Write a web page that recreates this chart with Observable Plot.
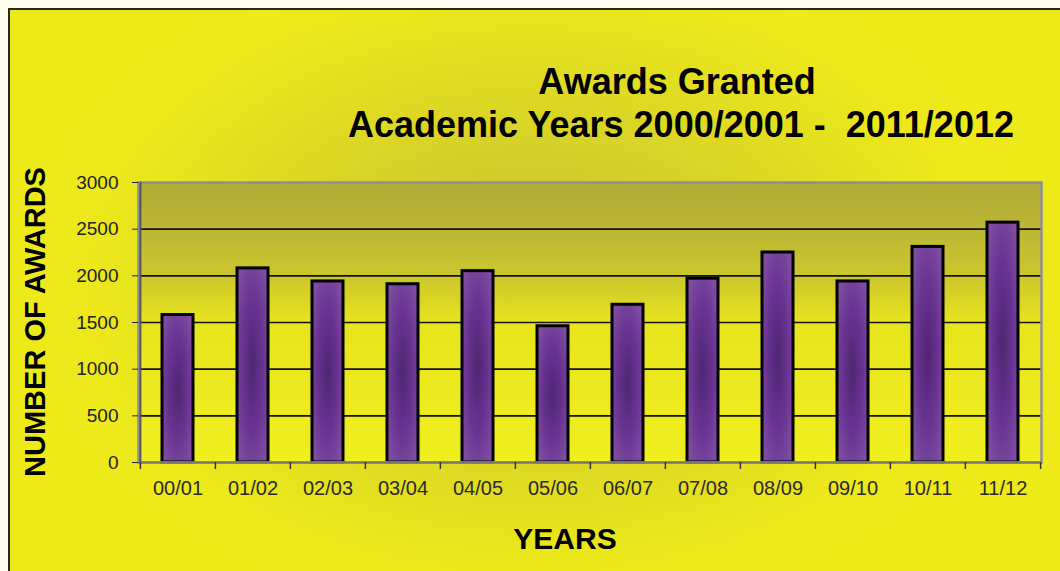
<!DOCTYPE html>
<html>
<head>
<meta charset="utf-8">
<script src="https://cdn.jsdelivr.net/npm/d3@7"></script>
<script src="https://cdn.jsdelivr.net/npm/@observablehq/plot@0.6"></script>
<style>
  html, body { margin: 0; padding: 0; background: #fffdf0; }
  #wrap { position: relative; width: 1060px; height: 571px; overflow: hidden; font-family: "Liberation Sans", Arial, sans-serif; }
  #bg { position: absolute; left: 8px; top: 8px; width: 1120px; height: 620px;
        border-left: 2px solid #2c2a14; border-top: 2px solid #2c2a14;
        background: radial-gradient(ellipse 500px 330px at 520px 270px, #c3bd34 0%, #d8d327 45%, #ebe71b 85%, #eeea1a 100%); }
  .t { position: absolute; font-weight: bold; color: #000; white-space: pre; text-align: center; }
  #chart { position: absolute; left: 0; top: 0; }
</style>
</head>
<body>
<div id="wrap">
  <div id="bg"></div>
  <div id="chart"></div>
  <div class="t" id="t1" style="left:327px; top:64px; width:700px; font-size:36px; line-height:36px;">Awards Granted</div>
  <div class="t" id="t2" style="left:331px; top:107px; width:700px; font-size:36px; line-height:36px;">Academic Years 2000/2001 -  2011/2012</div>
  <div class="t" id="ylab" style="left:-165px; top:306px; width:400px; font-size:29px; line-height:32px; transform:rotate(-90deg);">NUMBER OF AWARDS</div>
  <div class="t" id="xlab" style="left:415px; top:522px; width:300px; font-size:30px; line-height:34px;">YEARS</div>
</div>
<script>
const years = ["00/01","01/02","02/03","03/04","04/05","05/06","06/07","07/08","08/09","09/10","10/11","11/12"];
const awards = [1580, 2080, 1940, 1910, 2050, 1460, 1690, 1970, 2250, 1940, 2310, 2570];
const yTicks = [0, 500, 1000, 1500, 2000, 2500, 3000];
const gridValues = [500, 1000, 1500, 2000, 2500];

const data = years.map((y, i) => ({year: y, value: awards[i]}));

const W = 1060, H = 571, mL = 138, mR = 19, mT = 182, mB = 109;
const step = (W - mL - mR) / years.length;

const chart = Plot.plot({
  width: W, height: H,
  marginLeft: mL, marginRight: mR, marginTop: mT, marginBottom: mB,
  style: { background: "transparent", fontFamily: "Liberation Sans, Arial, sans-serif", overflow: "visible" },
  x: { type: "band", domain: years, paddingInner: 0.59, paddingOuter: 0.295, label: null },
  y: { domain: [0, 3000], label: null },
  marks: [
    Plot.frame({ fill: "url(#plotGrad)", stroke: null }),
    Plot.ruleY(gridValues, { stroke: "#111", strokeWidth: 1.6 }),
    Plot.barY(data, { x: "year", y: "value", fill: "url(#barGrad)", stroke: "#000", strokeWidth: 3 }),
    Plot.frame({ stroke: "#8e8e98", strokeWidth: 2.5 }),
    Plot.ruleX([years[0]], { x: d => d, dx: -step / 2, stroke: "#555", strokeWidth: 2 }),
    Plot.ruleY([0], { stroke: "#777", strokeWidth: 2 }),
    Plot.ruleX(years, { x: d => d, dx: -step / 2, y1: 0, y2: 0, insetTop: 0, insetBottom: -7, stroke: "#333", strokeWidth: 1.5 }),
    Plot.ruleX([years[years.length - 1]], { x: d => d, dx: step / 2, y1: 0, y2: 0, insetTop: 0, insetBottom: -7, stroke: "#333", strokeWidth: 1.5 }),
    Plot.axisY({ ticks: yTicks, tickFormat: d => String(d), tickSize: 6, tickPadding: 14, fontSize: 19, color: "#222", label: null }),
    Plot.axisX({ tickSize: 0, tickPadding: 18, fontSize: 20, color: "#2a2a2a", label: null })
  ]
});

d3.select(chart).insert("defs", ":first-child").html(`
  <linearGradient id="plotGrad" x1="0" y1="0" x2="0" y2="1">
    <stop offset="0" stop-color="#b0ab36"/>
    <stop offset="0.17" stop-color="#bcb735"/>
    <stop offset="0.34" stop-color="#ccc72c"/>
    <stop offset="0.5" stop-color="#e8e41d"/>
    <stop offset="1" stop-color="#f1ee1f"/>
  </linearGradient>
  <radialGradient id="barGrad" cx="0.5" cy="0.5" r="0.62">
    <stop offset="0" stop-color="#4d2671"/>
    <stop offset="0.55" stop-color="#6a3392"/>
    <stop offset="1" stop-color="#7e4ea1"/>
  </radialGradient>
`);

document.getElementById("chart").appendChild(chart);
</script>
</body>
</html>
